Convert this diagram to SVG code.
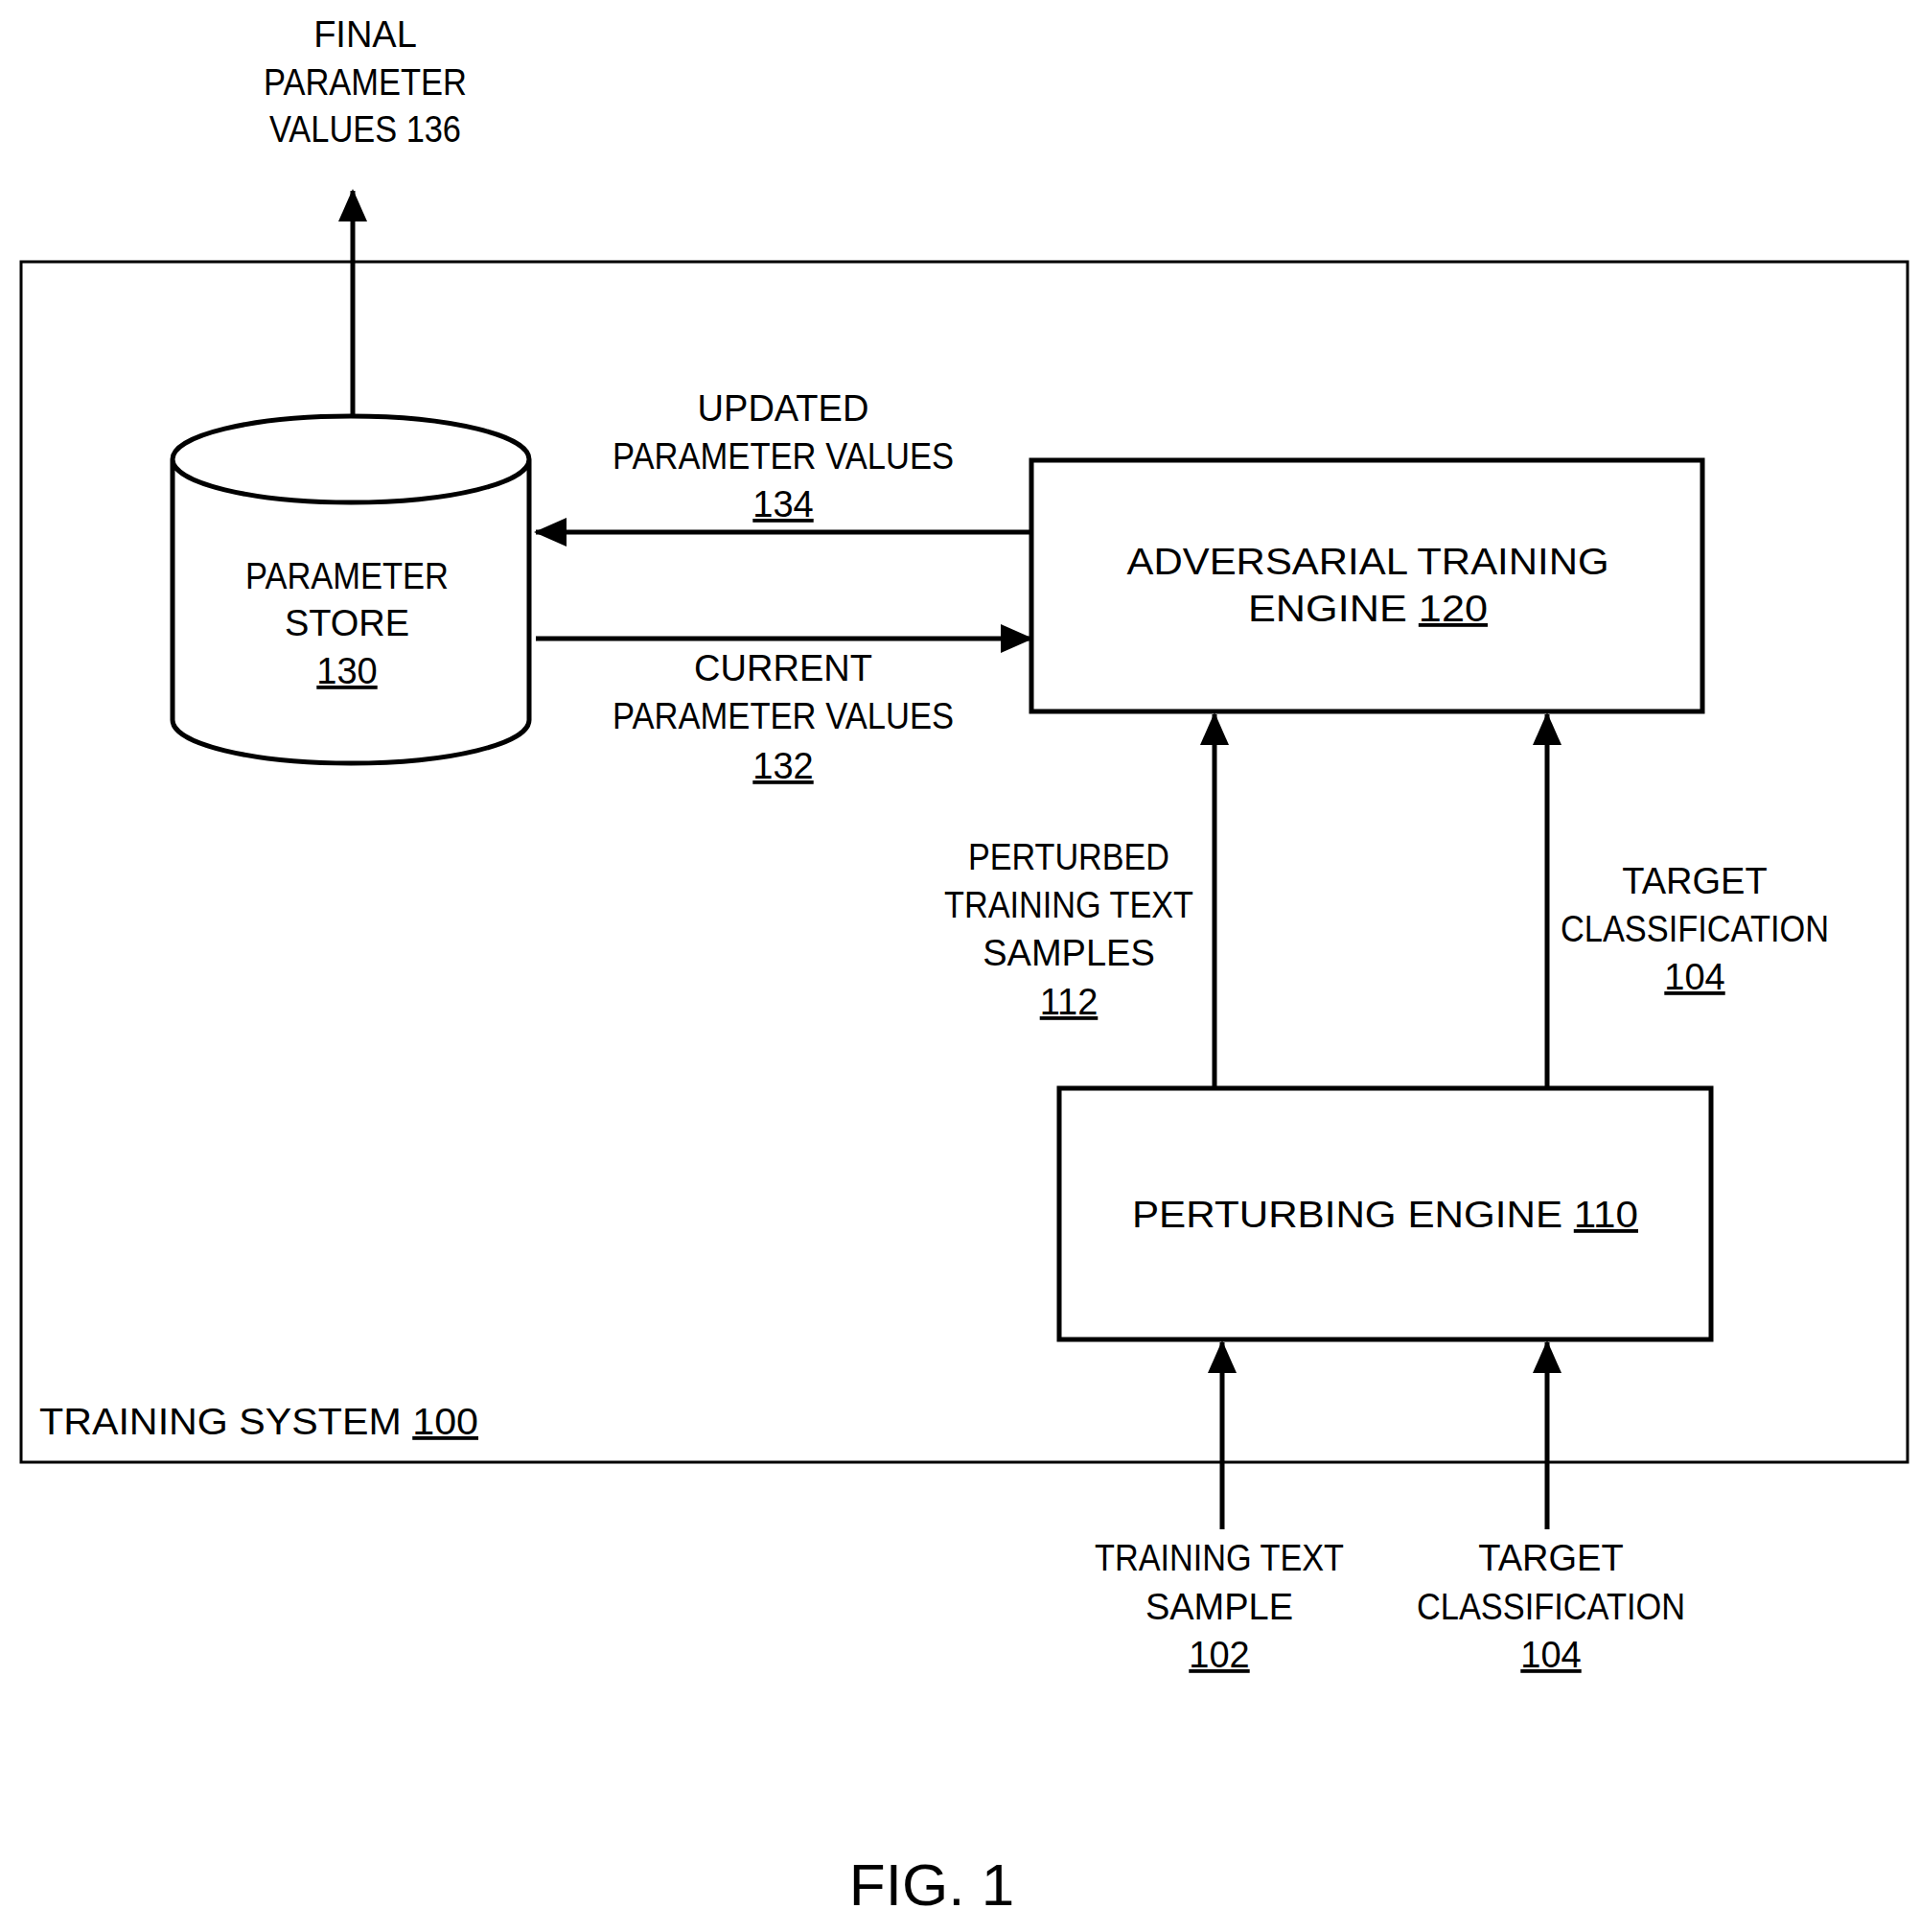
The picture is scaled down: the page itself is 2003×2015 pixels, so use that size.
<svg xmlns="http://www.w3.org/2000/svg" width="2003" height="2015" viewBox="0 0 2003 2015">
<style>
text{font-family:"Liberation Sans",Arial,sans-serif;font-size:38px;fill:#000;text-anchor:middle}
.u{text-decoration:underline}
.box{fill:#fff;stroke:#000;stroke-width:5}
.c{stroke:#000;stroke-width:5;fill:none;marker-end:url(#a)}
</style>
<defs><marker id="a" markerUnits="userSpaceOnUse" markerWidth="34" markerHeight="30" refX="32" refY="15" orient="auto"><path d="M0,0 L34,15 L0,30 Z" fill="#000"/></marker></defs>
<rect width="2003" height="2015" fill="#fff"/>
<g id="system"><rect x="22" y="273" width="1968" height="1252" fill="none" stroke="#000" stroke-width="3"/>
<text x="41" y="1496" style="text-anchor:start" textLength="458" lengthAdjust="spacingAndGlyphs">TRAINING SYSTEM <tspan class="u">100</tspan></text></g>
<g id="store">
<path class="box" d="M180,479 L180,751 A186,45 0 0 0 552,751 L552,479 A186,45 0 0 0 180,479 A186,45 0 0 0 552,479"/>
<text x="362" y="614" textLength="212" lengthAdjust="spacingAndGlyphs">PARAMETER</text><text x="362" y="663">STORE</text><text x="362" y="713" class="u">130</text></g>
<g id="adv"><rect class="box" x="1076" y="480" width="700" height="262"/>
<text x="1427" y="599" textLength="503" lengthAdjust="spacingAndGlyphs">ADVERSARIAL TRAINING</text>
<text x="1427" y="648" textLength="250" lengthAdjust="spacingAndGlyphs">ENGINE  <tspan class="u">120</tspan></text></g>
<g id="perturb"><rect class="box" x="1105" y="1135" width="680" height="262"/>
<text x="1445" y="1280" textLength="528" lengthAdjust="spacingAndGlyphs">PERTURBING ENGINE <tspan class="u">110</tspan></text></g>
<g id="connectors">
<line class="c" x1="368" y1="434" x2="368" y2="199"/>
<line class="c" x1="1076" y1="555" x2="559" y2="555"/>
<line class="c" x1="559" y1="666" x2="1076" y2="666"/>
<line class="c" x1="1267" y1="1135" x2="1267" y2="745"/>
<line class="c" x1="1614" y1="1135" x2="1614" y2="745"/>
<line class="c" x1="1275" y1="1595" x2="1275" y2="1400"/>
<line class="c" x1="1614" y1="1595" x2="1614" y2="1400"/>
</g>
<g id="labels">
<text x="381" y="49">FINAL</text><text x="381" y="99" textLength="212" lengthAdjust="spacingAndGlyphs">PARAMETER</text><text x="381" y="148" textLength="200" lengthAdjust="spacingAndGlyphs">VALUES 136</text>
<text x="817" y="439">UPDATED</text><text x="817" y="489" textLength="356" lengthAdjust="spacingAndGlyphs">PARAMETER VALUES</text><text x="817" y="539" class="u">134</text>
<text x="817" y="710">CURRENT</text><text x="817" y="760" textLength="356" lengthAdjust="spacingAndGlyphs">PARAMETER VALUES</text><text x="817" y="812" class="u">132</text>
<text x="1115" y="907" textLength="210" lengthAdjust="spacingAndGlyphs">PERTURBED</text><text x="1115" y="957" textLength="260" lengthAdjust="spacingAndGlyphs">TRAINING TEXT</text><text x="1115" y="1007">SAMPLES</text><text x="1115" y="1058" class="u">112</text>
<text x="1768" y="932">TARGET</text><text x="1768" y="982" textLength="280" lengthAdjust="spacingAndGlyphs">CLASSIFICATION</text><text x="1768" y="1032" class="u">104</text>
<text x="1272" y="1638" textLength="260" lengthAdjust="spacingAndGlyphs">TRAINING TEXT</text><text x="1272" y="1689">SAMPLE</text><text x="1272" y="1739" class="u">102</text>
<text x="1618" y="1638">TARGET</text><text x="1618" y="1689" textLength="280" lengthAdjust="spacingAndGlyphs">CLASSIFICATION</text><text x="1618" y="1739" class="u">104</text>
<text x="972" y="1987" style="font-size:62px">FIG. 1</text>
</g>
</svg>
